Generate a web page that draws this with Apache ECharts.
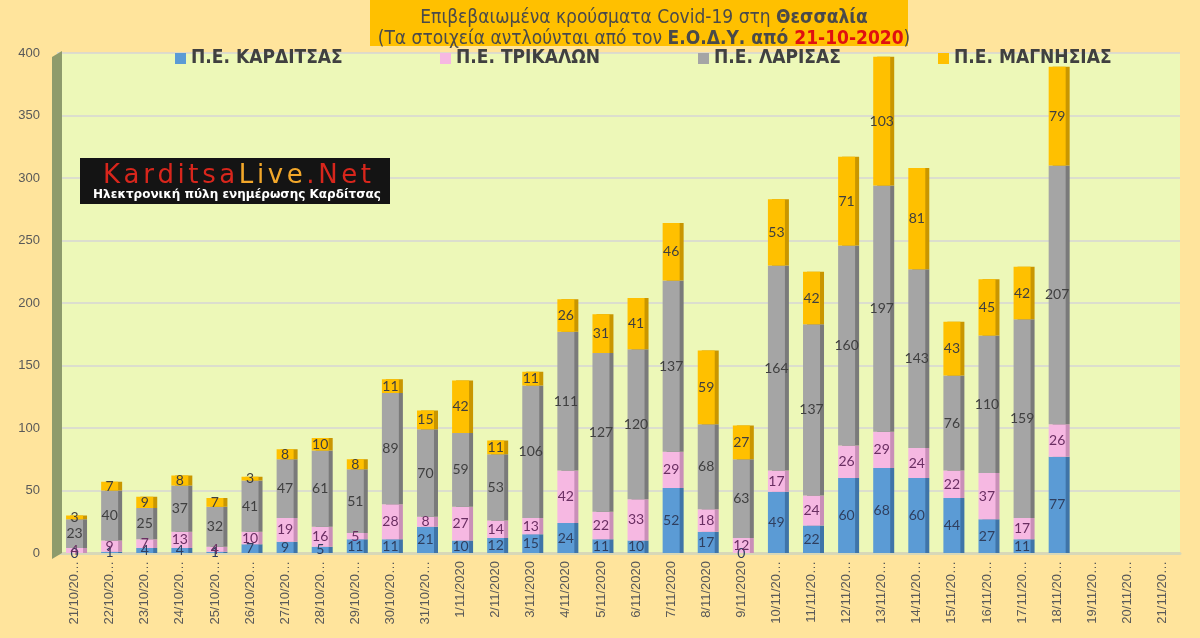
<!DOCTYPE html>
<html><head><meta charset="utf-8">
<script src="https://cdn.jsdelivr.net/npm/echarts@6/dist/echarts.min.js"></script>
<style>html,body{margin:0;padding:0;background:#FFE49C;}#c{width:1200px;height:638px;}</style>
</head><body><div id="c"></div>
<script>
const categories = ['21/10/2020','22/10/2020','23/10/2020','24/10/2020','25/10/2020','26/10/2020','27/10/2020','28/10/2020','29/10/2020','30/10/2020','31/10/2020','1/11/2020','2/11/2020','3/11/2020','4/11/2020','5/11/2020','6/11/2020','7/11/2020','8/11/2020','9/11/2020','10/11/2020','11/11/2020','12/11/2020','13/11/2020','14/11/2020','15/11/2020','16/11/2020','17/11/2020','18/11/2020','19/11/2020','20/11/2020','21/11/2020'];
const karditsa = [0,1,4,4,1,7,9,5,11,11,21,10,12,15,24,11,10,52,17,0,49,22,60,68,60,44,27,11,77,null,null,null];
const trikala  = [4,9,7,13,4,10,19,16,5,28,8,27,14,13,42,22,33,29,18,12,17,24,26,29,24,22,37,17,26,null,null,null];
const larisa   = [23,40,25,37,32,41,47,61,51,89,70,59,53,106,111,127,120,137,68,63,164,137,160,197,143,76,110,159,207,null,null,null];
const magnisia = [3,7,9,8,7,3,8,10,8,11,15,42,11,11,26,31,41,46,59,27,53,42,71,103,81,43,45,42,79,null,null,null];
const seriesNames = ['Π.Ε. ΚΑΡΔΙΤΣΑΣ','Π.Ε. ΤΡΙΚΑΛΩΝ','Π.Ε. ΛΑΡΙΣΑΣ','Π.Ε. ΜΑΓΝΗΣΙΑΣ'];
const yTicks = {min:0, max:400, interval:50};

const colors = ['#5B9BD5','#F6B8E2','#A5A5A5','#FFC000'];
const sideColors = ['#3F74A8','#C98FB8','#7A7A7A','#C99600'];
const labelColors = ['#2F3F5F','#6A2E62','#3F3F3F','#3F3F3F'];
const narrow = '"Liberation Sans Narrow","DejaVu Sans Condensed","Roboto Condensed",sans-serif';

const chart = echarts.init(document.getElementById('c'));
const datas = [karditsa, trikala, larisa, magnisia];
const series = datas.map((d,i)=>({
  name: seriesNames[i], type:'bar', stack:'total', data:d, barWidth:17,
  itemStyle:{color:colors[i], shadowColor:sideColors[i], shadowOffsetX:4, shadowBlur:0},
  label:{show:true, position:'inside', color:labelColors[i], fontSize:14, fontFamily:'Lato, "Open Sans", sans-serif',
    formatter:p=> (p.value===null||p.value===undefined)?'':String(p.value)}
}));

const legendLefts = [170, 435, 693, 933];
const legends = seriesNames.map((n,i)=>({
  top:44, left:legendLefts[i], itemWidth:11, itemHeight:11, icon:'rect', itemGap:6,
  textStyle:{fontFamily:narrow, fontSize:19, fontWeight:'bold', color:'#404040'},
  data:[n]
}));

function spaced(str, style){ return str.split('').map(ch=>'{'+style+'|'+ch+'}').join(''); }
const logoText = spaced('Karditsa','r') + spaced('Live','o') + spaced('.Net','r') +
  '\n{s|Ηλεκτρονική πύλη ενημέρωσης Καρδίτσας}';

chart.setOption({
  backgroundColor:'#FFE49C',
  animation:false,
  color:colors,
  graphic:[
    {type:'rect', shape:{x:370,y:0,width:538,height:46}, style:{fill:'#FFC000'}, z:0},
    {type:'polygon', shape:{points:[[52,57],[62,51],[62,553],[52,559]]}, style:{fill:'#8E9B6C'}, z:1},
    {type:'rect', shape:{x:80,y:158,width:310,height:46}, style:{fill:'#141414'}, z:5},
    {type:'text', x:237, y:164, z:6, style:{
      text:logoText, align:'center', textAlign:'center',
      rich:{
        r:{fill:'#D8261C', fontSize:26, fontFamily:'"DejaVu Sans",sans-serif', lineHeight:24, padding:[0,1.8,0,1.8]},
        o:{fill:'#F2A72A', fontSize:26, fontFamily:'"DejaVu Sans",sans-serif', lineHeight:24, padding:[0,1.8,0,1.8]},
        s:{fill:'#FFFFFF', fontSize:12, fontWeight:'bold', fontFamily:'"DejaVu Sans",sans-serif', lineHeight:14}
      }}}
  ],
  title:{
    left:639, top:3, textAlign:'center',
    text:'{a|Επιβεβαιωμένα κρούσματα Covid-19 στη }{b|Θεσσαλία}\n{a|(Τα στοιχεία αντλούνται από τον }{b|Ε.Ο.Δ.Υ. από }{r|21-10-2020}{a|)}',
    textStyle:{fontWeight:'normal', rich:{
      a:{fontFamily:narrow, fontSize:19, fontWeight:'normal', color:'#4A4A4A', lineHeight:21},
      b:{fontFamily:narrow, fontSize:19, fontWeight:'bold', color:'#4A4A4A', lineHeight:21},
      r:{fontFamily:narrow, fontSize:19, fontWeight:'bold', color:'#E01010', lineHeight:21}
    }}
  },
  legend:legends,
  grid:{left:57, right:20, top:53, bottom:85, show:true, backgroundColor:'#EDF8B8', borderWidth:0},
  xAxis:{
    type:'category', data:categories,
    axisLine:{show:true, lineStyle:{color:'#D8D8B8', width:3}},
    axisTick:{show:false},
    axisLabel:{rotate:90, color:'#595959', fontSize:13, fontFamily:'"Liberation Sans",Arial,sans-serif', margin:8, interval:0,
      formatter:v=> v.length>9 ? v.slice(0,8)+'…' : v}
  },
  yAxis:{
    type:'value', min:yTicks.min, max:yTicks.max, interval:yTicks.interval,
    axisLine:{show:false}, axisTick:{show:false},
    axisLabel:{color:'#595959', fontSize:13, fontFamily:'"Liberation Sans",Arial,sans-serif', margin:17},
    splitLine:{lineStyle:{color:'#D6D6D6', width:1.5}}
  },
  series:series
});
</script></body></html>
